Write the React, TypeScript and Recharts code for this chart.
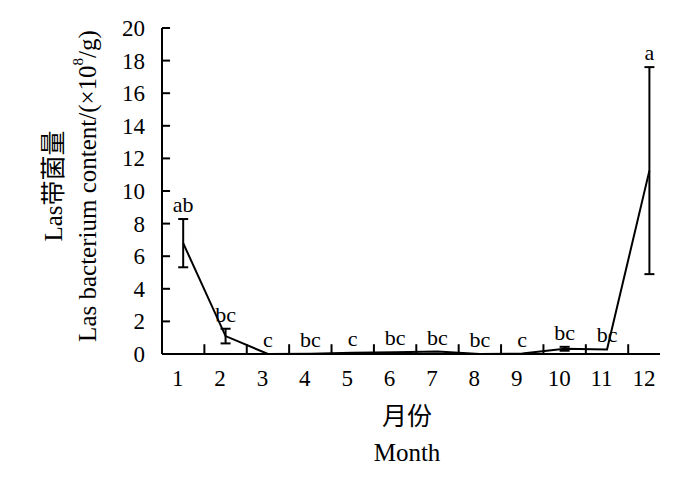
import React from "react";
import { LineChart, Line, XAxis, YAxis, ErrorBar, LabelList, Label, ReferenceLine } from "recharts";

const FONT = "'Liberation Serif', 'Times New Roman', 'Noto Sans CJK SC', serif";

// Las bacterium content by month (x10^8/g)
const months = [1, 2, 3, 4, 5, 6, 7, 8, 9, 10, 11, 12];
const content = [6.8, 1.1, 0, 0.02, 0.08, 0.1, 0.15, 0, 0.03, 0.32, 0.28, 11.25];
const sd = [1.48, 0.45, null, null, null, null, null, null, null, 0.12, null, 6.35];
const letters = ["ab", "bc", "c", "bc", "c", "bc", "bc", "bc", "c", "bc", "bc", "a"];

const yTicks = [0, 2, 4, 6, 8, 10, 12, 14, 16, 18, 20];
// small inward marks between the months
const dividers = [1.5, 2.5, 3.5, 4.5, 5.5, 6.5, 7.5, 8.5, 9.5, 10.5, 11.5];

const X_MIN = 0.5;
const X_MAX = 12.25;

const data = months.map((m, i) => ({
  month: m,
  content: content[i],
  sd: sd[i],
  top: content[i] + (sd[i] ?? 0),
  sig: letters[i],
}));

function MonthTick({ x, y, payload }: any) {
  return (
    <g>
      <text x={x - 5.5} y={y + 32} textAnchor="middle" fontSize={23} fontFamily={FONT} fill="#000">
        {payload.value}
      </text>
    </g>
  );
}

function ValueTick({ x, y, payload }: any) {
  return (
    <g>
      <text x={x - 17} y={y} dy="0.35em" textAnchor="end" fontSize={23} fontFamily={FONT} fill="#000">
        {payload.value}
      </text>
    </g>
  );
}

function XTitle({ viewBox }: any) {
  const cx = viewBox.x + viewBox.width / 2 - 4;
  const y0 = viewBox.y;
  return (
    <g fontFamily={FONT} fill="#000" fontSize={25} textAnchor="middle">
      <text x={cx} y={y0 + 62} dominantBaseline="central">月份</text>
      <text x={cx} y={y0 + 107}>Month</text>
    </g>
  );
}

function YTitle({ viewBox }: any) {
  const cy = viewBox.y + viewBox.height / 2 - 5;
  return (
    <g fontFamily={FONT} fill="#000" fontSize={25} textAnchor="middle">
      <text x={53} y={cy} dominantBaseline="central" transform={`rotate(-90 53 ${cy})`}>
        Las带菌量
      </text>
      <text x={87} y={cy} dominantBaseline="central" transform={`rotate(-90 87 ${cy})`}>
        Las bacterium content/(×10<tspan dy={-9} fontSize={15}>8</tspan>
        <tspan dy={9}>/g)</tspan>
      </text>
    </g>
  );
}

export default function App() {
  return (
    <div style={{ position: "absolute", left: 0, top: 0, background: "#fff" }}>
      <LineChart width={700} height={481} data={data} margin={{ top: 28, right: 40, bottom: 87, left: 0 }}>
        <XAxis
          dataKey="month"
          type="number"
          domain={[X_MIN, X_MAX]}
          ticks={months}
          interval={0}
          height={40}
          tickSize={0}
          tickMargin={0}
          tickLine={false}
          axisLine={{ stroke: "#000", strokeWidth: 2 }}
          tick={<MonthTick />}
        >
          <Label content={<XTitle />} />
        </XAxis>
        <YAxis
          type="number"
          domain={[0, 20]}
          ticks={yTicks}
          interval={0}
          width={162}
          tickSize={0}
          tickMargin={0}
          tickLine={false}
          axisLine={{ stroke: "#000", strokeWidth: 2 }}
          tick={<ValueTick />}
        >
          <Label content={<YTitle />} />
        </YAxis>
        {dividers.map((d) => (
          <ReferenceLine
            key={`xd${d}`}
            segment={[{ x: d, y: 0 }, { x: d, y: 0.6 }]}
            stroke="#000"
            strokeWidth={2}
            ifOverflow="visible"
          />
        ))}
        {yTicks.map((t) => (
          <ReferenceLine
            key={`yt${t}`}
            segment={[{ x: X_MIN, y: t }, { x: X_MIN + 0.19, y: t }]}
            stroke="#000"
            strokeWidth={2}
            ifOverflow="visible"
          />
        ))}
        <Line
          dataKey="content"
          stroke="#000"
          strokeWidth={2}
          dot={false}
          activeDot={false}
          isAnimationActive={false}
        >
          <ErrorBar dataKey="sd" width={5} stroke="#000" strokeWidth={2} isAnimationActive={false} />
        </Line>
        <Line
          dataKey="top"
          stroke="none"
          dot={false}
          activeDot={false}
          isAnimationActive={false}
        >
          <LabelList dataKey="sig" position="top" offset={7} fill="#000" fontSize={22} fontFamily={FONT} />
        </Line>
      </LineChart>
    </div>
  );
}
